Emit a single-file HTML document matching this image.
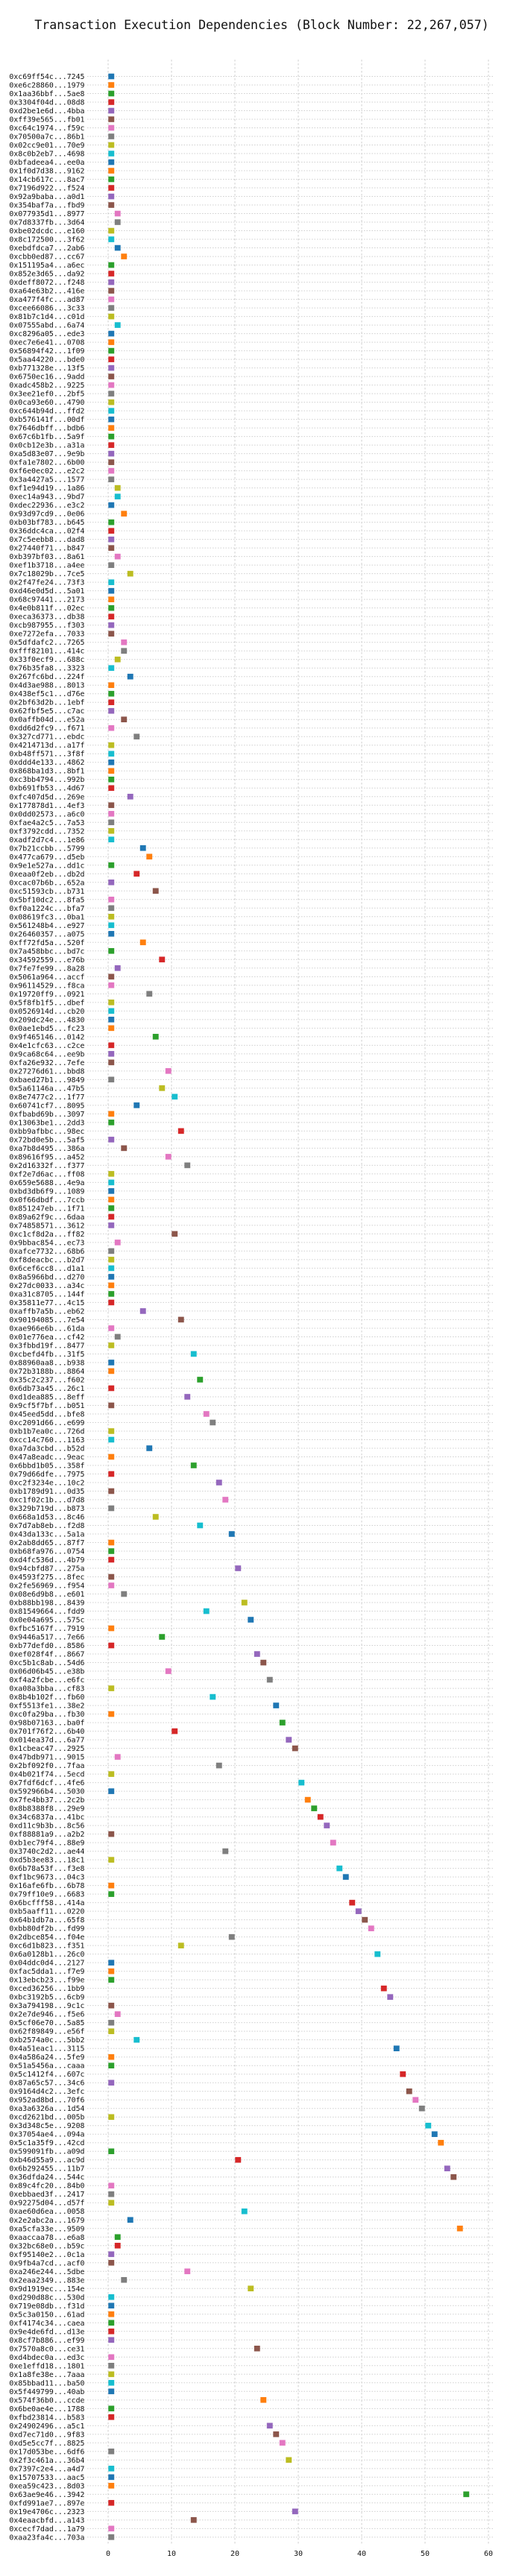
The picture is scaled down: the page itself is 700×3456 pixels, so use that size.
<!DOCTYPE html>
<html>
<head>
<meta charset="utf-8">
<style>
  html,body{margin:0;padding:0;background:#fff;}
  body{width:700px;height:3456px;overflow:hidden;}
  svg{display:block;}
  text{font-family:"DejaVu Sans Mono","Liberation Mono",monospace;fill:#111;}
</style>
</head>
<body>
<svg id="chart" width="700" height="3456" xmlns="http://www.w3.org/2000/svg">
  <text x="351" y="39" text-anchor="middle" font-size="16.6">Transaction Execution Dependencies (Block Number: 22,267,057)</text>
  <g id="grid"></g>
  <g id="rows"></g>
  <g id="bars"></g>
  <g id="xticks"></g>
</svg>
<script>
const txLabels = [
"0xc69ff54c...7245","0xe6c28860...1979","0x1aa36bbf...5ae8","0x3304f04d...08d8","0xd2be1e6d...4bba","0xff39e565...fb01","0xc64c1974...f59c","0x70500a7c...86b1","0x02cc9e01...70e9","0x8c0b2eb7...4698",
"0xbfadeea4...ee0a","0x1f0d7d38...9162","0x14cb617c...8ac7","0x7196d922...f524","0x92a9baba...a0d1","0x354baf7a...fbd9","0x077935d1...8977","0x7d8337fb...3d64","0xbe02dcdc...e160","0x8c172500...3f62",
"0xebdfdca7...2ab6","0xcbb0ed87...cc67","0x151195a4...a6ec","0x852e3d65...da92","0xdeff8072...f248","0xa64e63b2...416e","0xa477f4fc...ad87","0xcee66086...3c33","0x81b7c1d4...c01d","0x07555abd...6a74",
"0xc8296a05...ede3","0xec7e6e41...0708","0x56894f42...1f09","0x5aa44220...bde0","0xb771328e...13f5","0x6750ec16...9add","0xadc458b2...9225","0x3ee21ef0...2bf5","0x0ca93e60...4790","0xc644b94d...ffd2",
"0xb576141f...00df","0x7646dbff...bdb6","0x67c6b1fb...5a9f","0x0cb12e3b...a31a","0xa5d83e07...9e9b","0xfa1e7802...6b00","0xf6e0ec02...e2c2","0x3a4427a5...1577","0xf1e94d19...1a86","0xec14a943...9bd7",
"0xdec22936...e3c2","0x93d97cd9...0e06","0xb03bf783...b645","0x36ddc4ca...02f4","0x7c5eebb8...dad8","0x27440f71...b847","0xb397bf03...8a61","0xef1b3718...a4ee","0x7c18029b...7ce5","0x2f47fe24...73f3",
"0xd46e0d5d...5a01","0x68c97441...2173","0x4e0b811f...02ec","0xeca36373...db38","0xcb987955...f303","0xe7272efa...7033","0x5dfdafc2...7265","0xfff82101...414c","0x33f0ecf9...688c","0x76b35fa8...3323",
"0x267fc6bd...224f","0x4d3ae988...8013","0x438ef5c1...d76e","0x2bf63d2b...1ebf","0x62fbf5e5...c7ac","0x0affb04d...e52a","0xdd6d2fc9...f671","0x327cd771...ebdc","0x4214713d...a17f","0xb48ff571...3f8f",
"0xddd4e133...4862","0x868ba1d3...8bf1","0xc3bb4794...992b","0xb691fb53...4d67","0xfc407d5d...269e","0x177878d1...4ef3","0x0dd02573...a6c0","0xfae4a2c5...7a53","0xf3792cdd...7352","0xadf2d7c4...1e86",
"0x7b21ccbb...5799","0x477ca679...d5eb","0x9e1e527a...dd1c","0xeaa0f2eb...db2d","0xcac07b6b...652a","0xc51593cb...b731","0x5bf10dc2...8fa5","0xf0a1224c...bfa7","0x08619fc3...0ba1","0x561248b4...e927",
"0x26460357...a075","0xff72fd5a...520f","0x7a458bbc...bd7c","0x34592559...e76b","0x7fe7fe99...8a28","0x5061a964...accf","0x96114529...f8ca","0x19720ff9...0921","0x5f8fb1f5...dbef","0x0526914d...cb20",
"0x209dc24e...4830","0x0ae1ebd5...fc23","0x9f465146...0142","0x4e1cfc63...c2ce","0x9ca68c64...ee9b","0xfa26e932...7efe","0x27276d61...bbd8","0xbaed27b1...9849","0x5a61146a...47b5","0x8e7477c2...1f77",
"0x60741cf7...8095","0xfbabd69b...3097","0x13063be1...2dd3","0xbb9afbbc...98ec","0x72bd0e5b...5af5","0xa7b8d495...386a","0x89616f95...a452","0x2d16332f...f377","0xf2e7d6ac...ff08","0x659e5688...4e9a",
"0xbd3db6f9...1089","0x0f66dbdf...7ccb","0x851247eb...1f71","0x89a62f9c...6daa","0x74858571...3612","0xc1cf8d2a...ff82","0x9bbac854...ec73","0xafce7732...68b6","0xf8deacbc...b2d7","0x6cef6cc8...d1a1",
"0x8a5966bd...d270","0x27dc0033...a34c","0xa31c8705...144f","0x35811e77...4c15","0xaffb7a5b...eb62","0x90194085...7e54","0xae966e6b...61da","0x01e776ea...cf42","0x3fbbd19f...8477","0xcbefd4fb...31f5",
"0x88960aa8...b938","0x72b3188b...8864","0x35c2c237...f602","0x6db73a45...26c1","0xd1dea885...8eff","0x9cf5f7bf...b051","0x45eed5dd...bfe8","0xc2091d66...e699","0xb1b7ea0c...726d","0xcc14c760...1163",
"0xa7da3cbd...b52d","0x47a8eadc...9eac","0x6bbd1b05...358f","0x79d66dfe...7975","0xc2f3234e...10c2","0xb1789d91...0d35","0xc1f02c1b...d7d8","0x329b719d...b873","0x668a1d53...8c46","0x7d7ab8eb...f2d8",
"0x43da133c...5a1a","0x2ab8dd65...87f7","0xb68fa976...0754","0xd4fc536d...4b79","0x94cbfd87...275a","0x4593f275...8fec","0x2fe56969...f954","0x08e6d9b8...e601","0xb88bb198...8439","0x81549664...fdd9",
"0x0e04a695...575c","0xfbc5167f...7919","0x9446a517...7e66","0xb77defd0...8586","0xef028f4f...8667","0xc5b1c8ab...54d6","0x06d06b45...e38b","0xf4a2fcbe...e6fc","0xa08a3bba...cf83","0x8b4b102f...fb60",
"0xf5513fe1...38e2","0xc0fa29ba...fb30","0x98b07163...ba0f","0x701f76f2...6b40","0x014ea37d...6a77","0x1cbeac47...2925","0x47bdb971...9015","0x2bf092f0...7faa","0x4b021f74...5ecd","0x7fdf6dcf...4fe6",
"0x592966b4...5030","0x7fe4bb37...2c2b","0x8b8388f8...29e9","0x34c6837a...41bc","0xd11c9b3b...8c56","0xf88881a9...a2b2","0xb1ec79f4...88e9","0x3740c2d2...ae44","0xd5b3ee83...18c1","0x6b78a53f...f3e8",
"0xf1bc9673...04c3","0x16afe6fb...6b78","0x79ff10e9...6683","0x6bcfff58...414a","0xb5aaff11...0220","0x64b1db7a...65f8","0xbb80df2b...fd99","0x2dbce854...f04e","0xc6d1b823...f351","0x6a0128b1...26c0",
"0x04ddc0d4...2127","0xfac5dda1...f7e9","0x13ebcb23...f99e","0xced36256...1bb9","0xbc3192b5...6cb9","0x3a794198...9c1c","0x2e7de946...f5e6","0x5cf06e70...5a85","0x62f89849...e56f","0xb2574a0c...5bb2",
"0x4a51eac1...3115","0x4a586a24...5fe9","0x51a5456a...caaa","0x5c1412f4...607c","0x87a65c57...34c6","0x9164d4c2...3efc","0x952ad8bd...70f6","0xa3a6326a...1d54","0xcd2621bd...005b","0x3d348c5e...9208",
"0x37054ae4...094a","0x5c1a35f9...42cd","0x599091fb...a09d","0xb46d55a9...ac9d","0x6b292455...11b7","0x36dfda24...544c","0x89c4fc20...84b0","0xebbaed3f...2417","0x92275d04...d57f","0xae60d6ea...0058",
"0x2e2abc2a...1679","0xa5cfa33e...9509","0xaaccaa78...e6a8","0x32bc68e0...b59c","0xf95140e2...0c1a","0x9fb4a7cd...acf0","0xa246e244...5dbe","0x2eaa2349...883e","0x9d1919ec...154e","0xd290d88c...530d",
"0x719e08db...f31d","0x5c3a0150...61ad","0xf4174c34...caea","0x9e4de6fd...d13e","0x8cf7b886...ef99","0x7570a8c0...ce31","0xd4bdec0a...ed3c","0xe1effd18...1801","0x1a8fe38e...7aaa","0x85bbad11...ba50",
"0x5f449799...40ab","0x574f36b0...ccde","0x6be0ae4e...1788","0xfbd23814...b583","0x24902496...a5c1","0xd7ec71d0...9f83","0xd5e5cc7f...8825","0x17d053be...6df6","0x2f3c461a...36b4","0x7397c2e4...a4d7",
"0x15707533...aac5","0xea59c423...8d03","0x63ae9e46...3942","0xfd991ae7...897e","0x19e4706c...2323","0x4eaacbfd...a143","0xcecf7dad...1a79","0xaa23fa4c...703a"
];
const startSlots = [
0,0,0,0,0,0,0,0,0,0, 0,0,0,0,0,0,1,1,0,0, 1,2,0,0,0,0,0,0,0,1,
0,0,0,0,0,0,0,0,0,0, 0,0,0,0,0,0,0,0,1,1, 0,2,0,0,0,0,1,0,3,0,
0,0,0,0,0,0,2,2,1,0, 3,0,0,0,0,2,0,4,0,0, 0,0,0,0,3,0,0,0,0,0,
5,6,0,4,0,7,0,0,0,0, 0,5,0,8,1,0,0,6,0,0, 0,0,7,0,0,0,9,0,8,10,
4,0,0,11,0,2,9,12,0,0, 0,0,0,0,0,10,1,0,0,0, 0,0,0,0,5,11,0,1,0,13,
0,0,14,0,12,0,15,16,0,0, 6,0,13,0,17,0,18,0,7,14, 19,0,0,0,20,0,0,2,21,15,
22,0,8,0,23,24,9,25,0,16, 26,0,27,10,28,29,1,17,0,30, 0,31,32,33,34,0,35,18,0,36,
37,0,0,38,39,40,41,19,11,42, 0,0,0,43,44,0,1,0,0,4, 45,0,0,46,0,47,48,49,0,50,
51,52,0,20,53,54,0,0,0,21, 3,55,1,1,0,0,12,2,22,0, 0,0,0,0,0,23,0,0,0,0,
0,24,0,0,25,26,27,0,28,0, 0,0,56,0,29,13,0,0
];
const xTickValues = [0,10,20,30,40,50,60];
const palette = ["#1f77b4","#ff7f0e","#2ca02c","#d62728","#9467bd","#8c564b","#e377c2","#7f7f7f","#bcbd22","#17becf"];

const NS = "http://www.w3.org/2000/svg";
const X0 = 145, PX = 8.5, Y0 = 102.5, ROWH = 11.503;
function xScale(v){ return X0 + v * PX; }
function yScale(i){ return Y0 + i * ROWH; }
const yBottom = yScale(txLabels.length - 1) + 9;

const grid = document.getElementById('grid');
const rows = document.getElementById('rows');
const bars = document.getElementById('bars');
const xt = document.getElementById('xticks');

xTickValues.forEach(function(t){
  const x = xScale(t);
  const ln = document.createElementNS(NS,'line');
  
  
  ln.setAttribute('x1', x); ln.setAttribute('x2', x);
  ln.setAttribute('y1', 80); ln.setAttribute('y2', yBottom);
  ln.setAttribute('stroke', '#cfcfcf'); ln.setAttribute('stroke-width', '1');
  ln.setAttribute('stroke-dasharray', '2.5,2.5');
  grid.appendChild(ln);
  const tx = document.createElementNS(NS,'text');
  
  
  tx.setAttribute('x', x); tx.setAttribute('y', 3429);
  tx.setAttribute('text-anchor', 'middle'); tx.setAttribute('font-size', '10');
  tx.textContent = String(t);
  xt.appendChild(tx);
});

txLabels.forEach(function(lbl, i){
  const y = yScale(i);
  const ln = document.createElementNS(NS,'line');
  
  
  ln.setAttribute('x1', 117); ln.setAttribute('x2', 662);
  ln.setAttribute('y1', y); ln.setAttribute('y2', y);
  ln.setAttribute('stroke', '#cfcfcf'); ln.setAttribute('stroke-width', '1');
  ln.setAttribute('stroke-dasharray', '1.5,2');
  rows.appendChild(ln);
  const tx = document.createElementNS(NS,'text');
  
  
  tx.setAttribute('x', 113.5); tx.setAttribute('y', y + 3.5);
  tx.setAttribute('text-anchor', 'end'); tx.setAttribute('font-size', '9.9');
  tx.textContent = lbl;
  rows.appendChild(tx);
  const v = startSlots[i];
  const r = document.createElementNS(NS,'rect');
  
  
  r.setAttribute('x', xScale(v) + 0.3);
  r.setAttribute('width', PX - 0.6);
  r.setAttribute('y', y - 3.8);
  r.setAttribute('height', 7.6);
  r.setAttribute('fill', palette[i % 10]);
  bars.appendChild(r);
});
</script>
</body>
</html>
